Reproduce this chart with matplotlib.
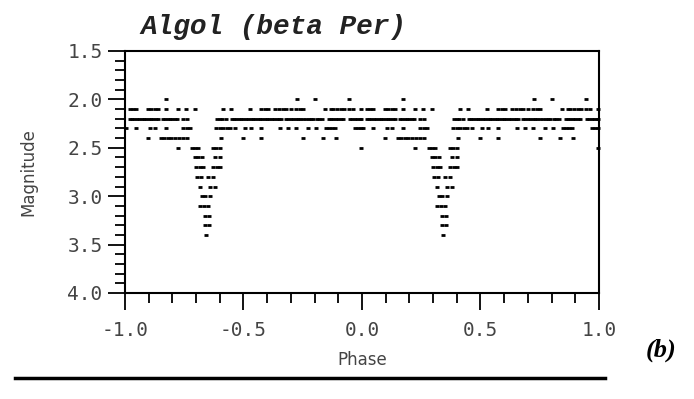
import numpy as np
import matplotlib.pyplot as plt
from matplotlib.ticker import MultipleLocator, FormatStrFormatter

plt.rcParams['axes.unicode_minus'] = False

# Algol light curve, one cycle (phase -1..0); drawn twice (period = 1)
mag20 = [-0.827, -0.274, -0.198, -0.055]
mag21 = [-0.979, -0.966, -0.954, -0.903, -0.89, -0.875, -0.861, -0.827, -0.776,
         -0.743, -0.705, -0.586, -0.553, -0.473, -0.426, -0.41, -0.395, -0.367,
         -0.35, -0.333, -0.32, -0.30, -0.28, -0.262, -0.249, -0.156, -0.131,
         -0.12, -0.105, -0.09, -0.075, -0.055, -0.038, -0.005]
mag22 = [-0.98, -0.97, -0.96, -0.95, -0.94, -0.93, -0.92, -0.91, -0.90, -0.89,
         -0.88, -0.87, -0.86, -0.84, -0.83, -0.82, -0.81, -0.80, -0.79, -0.78,
         -0.755, -0.737,
         -0.61, -0.60, -0.59, -0.575,
         -0.55, -0.54, -0.53, -0.52, -0.51, -0.50, -0.49, -0.48, -0.47, -0.46,
         -0.45, -0.44, -0.43, -0.42, -0.41, -0.40, -0.39, -0.38, -0.37, -0.36,
         -0.35, -0.34,
         -0.32, -0.31, -0.30, -0.29, -0.28, -0.27, -0.26, -0.25,
         -0.235, -0.225, -0.215, -0.207, -0.19, -0.18, -0.17,
         -0.14, -0.13, -0.12, -0.11, -0.10, -0.09, -0.08,
         -0.05, -0.04, -0.03, -0.02, -0.01, -0.003]
mag23 = [-0.996, -0.954, -0.895, -0.873, -0.827, -0.755, -0.74, -0.725, -0.616,
         -0.60, -0.585, -0.57, -0.557, -0.536, -0.494, -0.468, -0.426, -0.346,
         -0.312, -0.278, -0.228, -0.194, -0.152, -0.14, -0.125, -0.114, -0.03,
         -0.018, -0.005]
mag24 = [-0.903, -0.848, -0.835, -0.82, -0.805, -0.789, -0.77, -0.755, -0.74,
         -0.595, -0.502, -0.426, -0.249, -0.165, -0.11]
mag25 = [-0.776, -0.717, -0.705, -0.692, -0.63, -0.616, -0.60, -0.004]
mag26 = [-0.705, -0.69, -0.675, -0.62, -0.60]
mag27 = [-0.70, -0.685, -0.672, -0.628, -0.612, -0.60]
mag28 = [-0.696, -0.68, -0.65, -0.628]
mag29 = [-0.684, -0.641, -0.62]
mag30 = [-0.675, -0.662, -0.641]
mag31 = [-0.684, -0.667, -0.65]
mag32 = [-0.662, -0.646]
mag33 = [-0.662, -0.645]
mag34 = [-0.658]

rows = [(2.0, mag20), (2.1, mag21), (2.2, mag22), (2.3, mag23), (2.4, mag24),
        (2.5, mag25), (2.6, mag26), (2.7, mag27), (2.8, mag28), (2.9, mag29),
        (3.0, mag30), (3.1, mag31), (3.2, mag32), (3.3, mag33), (3.4, mag34)]

fig = plt.figure(figsize=(6.94, 3.99), dpi=100)
ax = fig.add_axes([0.180, 0.2657, 0.683, 0.6065])

for m, ph in rows:
    ph = np.array(ph)
    x = np.concatenate([ph, ph + 1])
    # short horizontal dashes, like the plotter dots
    ax.plot(x, np.full(len(x), m), '_', color='k', ms=3.2, mew=2.0, clip_on=False)

ax.set_xlim(-1, 1)
ax.set_ylim(4.0, 1.5)
ax.xaxis.set_major_locator(MultipleLocator(0.5))
ax.xaxis.set_minor_locator(MultipleLocator(0.1))
ax.yaxis.set_major_locator(MultipleLocator(0.5))
ax.yaxis.set_minor_locator(MultipleLocator(0.1))
ax.xaxis.set_major_formatter(FormatStrFormatter('%.1f'))
ax.yaxis.set_major_formatter(FormatStrFormatter('%.1f'))

for s in ax.spines.values():
    s.set_linewidth(1.5)
ax.tick_params(which='both', direction='out', width=1.3, color='k',
               top=False, right=False)
ax.tick_params(which='major', length=12, labelsize=14, labelcolor='#444', pad=4)
ax.tick_params(which='minor', length=7)
ax.tick_params(axis='x', which='major', pad=8)
for lab in ax.get_xticklabels() + ax.get_yticklabels():
    lab.set_family('DejaVu Sans Mono')

ax.set_xlabel('Phase', fontsize=12, color='#444', labelpad=8)
ax.set_ylabel('Magnitude', fontsize=12, color='#444', labelpad=22)

fig.text(140 / 694, 1 - 27 / 399, 'Algol (beta Per)', family='Liberation Mono',
         style='italic', weight='bold', fontsize=20, color='#222',
         ha='left', va='center')

# rule and panel label under the chart
fig.add_artist(plt.Line2D([15 / 694, 605 / 694], [1 - 378 / 399, 1 - 378 / 399],
                          color='k', lw=2.5))
fig.text(661 / 694, 1 - 350 / 399, '(b)', family='Liberation Serif',
         style='italic', weight='bold', fontsize=19, ha='center', va='center')

fig.savefig('out.png', dpi=100)
